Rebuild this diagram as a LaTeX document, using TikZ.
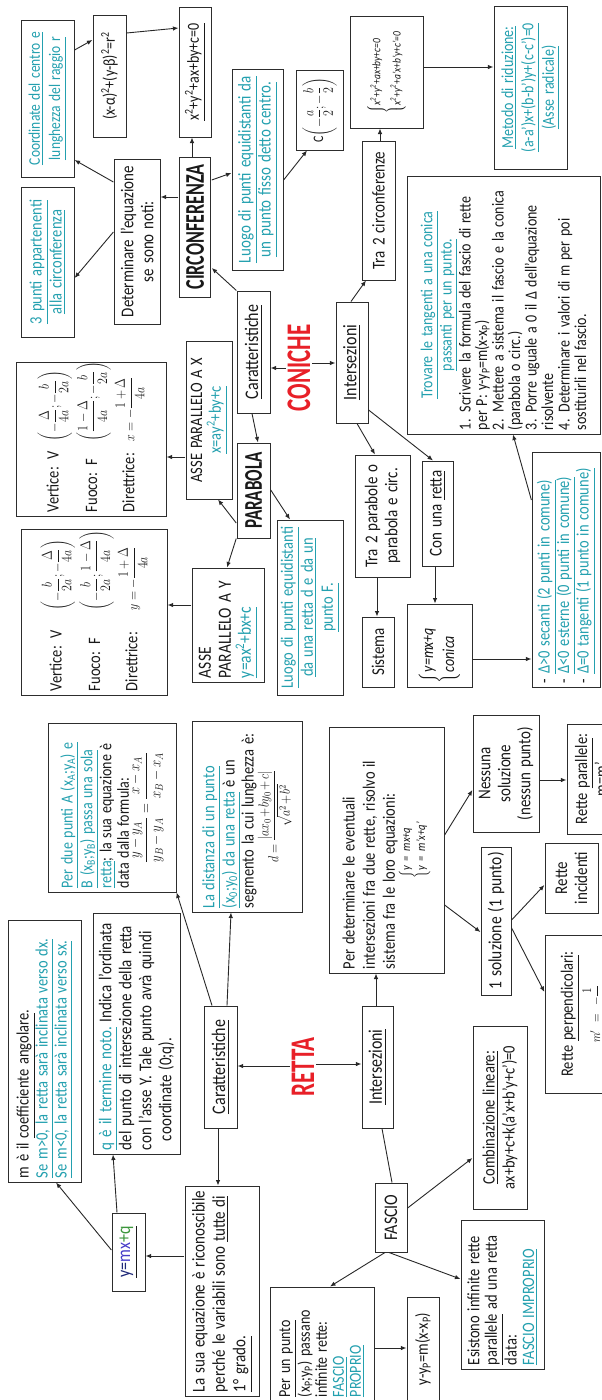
\RequirePackage{fix-cm}
\documentclass[tikz,border=0pt]{standalone}
\usepackage{amsmath}
\usepackage{fontspec}
\setmainfont{Carlito}
\usetikzlibrary{arrows.meta}
\definecolor{tl}{RGB}{35,160,175}
\definecolor{rd}{RGB}{232,32,40}
\definecolor{bd}{RGB}{45,45,45}
\definecolor{ln}{RGB}{40,40,40}
\definecolor{tx}{RGB}{25,25,25}
\definecolor{nv}{RGB}{30,40,120}
\definecolor{bl}{RGB}{70,60,200}
\definecolor{gr}{RGB}{60,150,60}
\newcommand\tlu[1]{\textcolor{tl}{\underline{#1}}}
\newcommand\fm[1]{{\fontsize{12}{14}\selectfont$#1$}}
\newcommand\bxn[7]{%
 \pgfmathsetmacro\bxW{#5-#3}%
 \pgfmathsetmacro\bxH{(#4-#2)/1.2}%
 \pgfmathsetmacro\bxT{#5-#3-8}%
 \pgfmathsetmacro\bxX{(#2+#4)/2}%
 \pgfmathsetmacro\bxY{-(#3+#5)/2}%
 \node[box,minimum width=\bxW pt,minimum height=\bxH pt,text width=\bxT pt,#6] (#1) at (\bxX,\bxY) {#7};}
\tikzset{
 fsz/.style 2 args={font=\fontsize{#1}{#2}\selectfont},
 box/.style={draw=bd,line width=1pt,rotate=90,yscale=1.2,inner xsep=3pt,inner ysep=1pt,align=center,text=tx,fsz={15}{16.7}},
 lbl/.style={rotate=90,yscale=1.5,inner sep=1pt,text=rd},
 arr/.style={draw=ln,line width=0.9pt,-{Latex[length=5.5pt,width=4.5pt]}},
 pln/.style={draw=ln,line width=0.9pt},
}
\begin{document}
\begin{tikzpicture}[x=1pt,y=1pt]
\useasboundingbox (0,0) rectangle (602,-1400);
\fill[white] (0,0) rectangle (602,-1400);
% ---------------- CONICHE ----------------
\bxn{coord}{21}{20}{74}{177}{fsz={13.5}{16.7}}{\tlu{Coordinate del centro e}\\\tlu{lunghezza del raggio r}}
\bxn{eqc}{93}{15}{126}{137}{fsz={14}{16}}{(x-α)\textsuperscript{2}+(y-β)\textsuperscript{2}=r\textsuperscript{2}}
\bxn{gen}{179}{7}{211}{137}{fsz={14}{16}}{\underline{x\textsuperscript{2}+y\textsuperscript{2}+ax+by+c=0}}
\bxn{p3}{21}{187}{74}{337}{fsz={14.5}{16.7}}{\tlu{3 punti appartenenti}\\\tlu{alla circonferenza}}
\bxn{det}{114}{159}{160}{324}{fsz={15}{16.7}}{Determinare l'equazione\\se sono noti:}
\bxn{circ}{179}{157}{211}{297}{fsz={18}{20},yscale=1.25,minimum height=21.3pt,inner xsep=1pt}{\textbf{CIRCONFERENZA}}
\bxn{luogoc}{232}{69}{283}{270}{fsz={15}{16.7}}{\tlu{Luogo di punti equidistanti da}\\\tlu{un punto fisso detto centro.}}
\bxn{cpt}{296}{70}{343}{150}{fsz={12}{14}}{C$\left(-\dfrac{a}{2};-\dfrac{b}{2}\right)$}
\bxn{sys2}{350}{16}{423}{128}{fsz={9.5}{16.7}}{$\left\{\begin{tabular}{@{}l@{}}\textit{x\textsuperscript{2}+y\textsuperscript{2}+ax+by+c=0}\\\textit{x\textsuperscript{2}+y\textsuperscript{2}+a'x+b'y+c'=0}\end{tabular}\right.$}
\bxn{metodo}{494}{6}{567}{169}{fsz={14}{17}}{\tlu{Metodo di riduzione:}\\\tlu{(a-a')x+(b-b')y+(c-c')=0}\\\tlu{(Asse radicale)}}
\bxn{tra2c}{362}{141}{395}{280}{fsz={15}{17}}{Tra 2 circonferenze}
\bxn{trov}{407}{176}{600}{434}{fsz={14}{13.75},align=left}{{\centering\tlu{Trovare le tangenti a una conica}\\\tlu{passanti per un punto.}\par}1. Scrivere la formula del fascio di rette\\per P: y-y\textsubscript{P}=m(x-x\textsubscript{P})\\2. Mettere a sistema il fascio e la conica\\(parabola o circ.)\\3. Porre uguale a 0 il Δ dell'equazione\\risolvente\\4. Determinare i valori di m per poi\\sostituirli nel fascio.}
\bxn{carC}{237}{291}{270}{413}{fsz={16}{18}}{\underline{Caratteristiche}}
\node[lbl,fsz={23}{25}] (conic) at (299,-368) {\textbf{CONICHE}};
\bxn{intC}{336}{302}{368}{423}{fsz={16}{18}}{\underline{Intersezioni}}
\bxn{asseX}{186}{341}{232}{499}{fsz={14.5}{15.8}}{ASSE PARALLELO A X\\\tlu{x=ay\textsuperscript{2}+by+c}}
\bxn{vertX}{16}{362}{166}{516}{fsz={14.5}{16},align=left}{\begin{tabular}{@{}l@{\hspace{10pt}}l@{}}
Vertice: V & \fm{\left(-\dfrac{\Delta}{4a};-\dfrac{b}{2a}\right)}\\[10pt]
Fuoco: F & \fm{\left(\dfrac{1-\Delta}{4a};-\dfrac{b}{2a}\right)}\\[10pt]
Direttrice: & \fm{x=-\dfrac{1+\Delta}{4a}}
\end{tabular}}
\bxn{parab}{237}{443}{270}{538}{fsz={17}{19},yscale=1.25,minimum height=22pt,inner xsep=1pt}{\textbf{PARABOLA}}
\bxn{asseY}{192}{568}{264}{682}{fsz={15.5}{16.7},align=left}{ASSE\\PARALLELO A Y\\\tlu{y=ax\textsuperscript{2}+bx+c}}
\bxn{vertY}{21}{529}{167}{695}{fsz={14.5}{16},align=left}{\begin{tabular}{@{}l@{\hspace{20pt}}l@{}}
Vertice: V & \fm{\left(-\dfrac{b}{2a};-\dfrac{\Delta}{4a}\right)}\\[10pt]
Fuoco: F & \fm{\left(-\dfrac{b}{2a};\dfrac{1-\Delta}{4a}\right)}\\[10pt]
Direttrice: & \fm{y=-\dfrac{1+\Delta}{4a}}
\end{tabular}}
\bxn{luogop}{277}{520}{343}{695}{fsz={14.5}{16.7}}{\tlu{Luogo di punti equidistanti}\\\tlu{da una retta d e da un}\\\tlu{punto F.}}
\bxn{tra2p}{355}{455}{410}{577}{fsz={15}{16.7}}{Tra 2 parabole o\\parabola e circ.}
\bxn{conr}{422}{461}{453}{566}{fsz={15}{17}}{Con una \underline{retta}}
\bxn{sist}{362}{617}{394}{687}{fsz={15}{17}}{Sistema}
\bxn{syscon}{407}{604}{472}{687}{fsz={14}{17.5},align=left}{$\left\{\begin{tabular}{@{}l@{}}\textit{y=mx+q}\\\textit{conica}\end{tabular}\right.$}
\bxn{delta}{532}{452}{600}{687}{fsz={14.5}{16.25},align=left}{- \tlu{Δ>0 secanti (2 punti in comune)}\\- \tlu{Δ<0 esterne (0 punti in comune)}\\- \tlu{Δ=0 tangenti (1 punto in comune)}}
% ---------------- RETTA ----------------
\bxn{mbox}{8}{920}{81}{1182}{fsz={14.5}{15.8},align=left}{m è il \underline{coefficiente angolare}.\\\tlu{Se m>0, la retta sarà inclinata verso dx.}\\\tlu{Se m<0, la retta sarà inclinata verso sx.}}
\bxn{qbox}{93}{913}{180}{1154}{fsz={15}{16.7},align=left}{\tlu{q è il termine noto.} Indica l'ordinata\\del punto di intersezione della retta\\con l'asse Y. Tale punto avrà quindi\\\hspace*{0.6em}coordinate (0;q).}
\bxn{carR}{204}{1006}{237}{1128}{fsz={16}{18}}{\underline{Caratteristiche}}
\node[lbl,fsz={23}{25}] (retta) at (303,-1067) {\textbf{RETTA}};
\bxn{intR}{362}{1006}{393}{1128}{fsz={16}{18}}{\underline{Intersezioni}}
\bxn{perdet}{329}{727}{444}{973}{fsz={14.5}{16.7},align=left}{Per determinare le eventuali\\intersezioni fra due rette, risolvo il\\sistema fra le loro equazioni:\par{\centering\fontsize{10.5}{12.5}\selectfont$\left\{\begin{tabular}{@{}l@{}}\textit{y = mx+q}\\\textit{y = m'x+q'}\end{tabular}\right.$\par}}
\bxn{sol1}{481}{847}{511}{995}{fsz={15.5}{17}}{1 soluzione (1 punto)}
\bxn{nessuna}{473}{715}{539}{832}{fsz={15}{16.7}}{Nessuna\\soluzione\\(nessun punto)}
\bxn{parall}{567}{724}{615}{834}{fsz={14.5}{15}}{Rette \underline{parallele}:\\m=m'}
\bxn{incid}{545}{843}{598}{913}{fsz={15}{16.7}}{Rette\\incidenti}
\bxn{perp}{545}{935}{625}{1093}{fsz={14.5}{16}}{Rette \underline{perpendicolari}:\\[2pt]{\fontsize{11}{12}\selectfont$m'=-\dfrac{1}{m}$}}
\bxn{due}{48}{723}{176}{892}{fsz={14}{14.6},align=left}{\tlu{Per due punti A (x\textsubscript{A};y\textsubscript{A}) e}\\\tlu{B (x\textsubscript{B};y\textsubscript{B}) passa una sola}\\\tlu{retta}; la sua equazione è\\data dalla formula:\par{\centering\fontsize{13}{15}\selectfont$\dfrac{y-y_A}{y_B-y_A}=\dfrac{x-x_A}{x_B-x_A}$\par}}
\bxn{dist}{192}{721}{302}{912}{fsz={14.5}{15.8},align=left}{\tlu{La distanza di un punto}\\\tlu{(x\textsubscript{0};y\textsubscript{0}) da una retta} è un\\segmento la cui lunghezza è:\par{\centering\fontsize{12}{14}\selectfont\medmuskip=2mu$d=\dfrac{|ax_0+by_0+c|}{\sqrt{a^2+b^2}}$\par}}
\bxn{suaeq}{185}{1186}{259}{1396}{fsz={15}{17},align=left}{La sua equazione è riconoscibile\\perché le variabili sono \underline{tutte di}\\\underline{1° grado.}}
\bxn{ymq}{112}{1213}{145}{1291}{fsz={16}{18}}{\underline{\textcolor{nv}{y=}\textcolor{bl}{mx}\textcolor{gr}{+q}}}
\bxn{perun}{270}{1287}{374}{1401}{fsz={14}{14.2},align=left}{\underline{Per un punto}\\(x\textsubscript{P};y\textsubscript{P}) passano\\infinite rette:\\\tlu{FASCIO}\\\tlu{PROPRIO}}
\bxn{ypm}{407}{1297}{439}{1401}{fsz={14.5}{16}}{y-y\textsubscript{P}=m(x-x\textsubscript{P})}
\bxn{fascio}{375}{1183}{407}{1252}{fsz={16}{18}}{FASCIO}
\bxn{esist}{461}{1220}{544}{1369}{fsz={14.5}{14.6},align=left}{Esistono infinite rette\\\underline{parallele} ad una retta\\data:\\\tlu{FASCIO IMPROPRIO}}
\bxn{comb}{473}{1026}{527}{1209}{fsz={14.5}{16.7}}{\underline{Combinazione lineare:}\\ax+by+c+k(a'x+b'y+c')=0}
% ---------------- connectors: coniche ----------------
\draw[arr] (circ.east -| 192,0) -- (gen.west -| 192,0);
\draw[arr] (circ.north |- 0,-197) -- (det.south |- 0,-197);
\draw[arr] (circ.south |- 0,-180) -- (luogoc.north |- 0,-173);
\draw[arr] (det.north |- 0,-182) -- (coord.south |- 0,-160);
\draw[arr] (det.north |- 0,-232) -- (p3.south |- 0,-278);
\draw[arr] (eqc.south |- 0,-33) -- (gen.north |- 0,-28);
\draw[arr] (coord.south |- 0,-50) -- (eqc.north |- 0,-40);
\draw[arr] (luogoc.south |- 0,-180) -- (cpt.west -| 307,0);
\draw[arr] (carC.north east) -- (circ.south |- 0,-268);
\draw[arr] (carC.west -| 252,0) -- (parab.east -| 258,0);
\draw[arr] (conic.north |- 0,-368) -- (carC.south |- 0,-368);
\draw[arr] (conic.south |- 0,-363) -- (intC.north |- 0,-363);
\draw[arr] (parab.north |- 0,-523) -- (asseX.west -| 218,0);
\draw[arr] (parab.north west) -- (asseY.east -| 227,0);
\draw[arr] (parab.south |- 0,-490) -- (luogop.east -| 290,0);
\draw[arr] (asseX.north |- 0,-457) -- (vertX.south |- 0,-457);
\draw[arr] (asseY.north |- 0,-605) -- (vertY.south |- 0,-605);
\draw[arr] (intC.east -| 351,0) -- (tra2c.west -| 366,0);
\draw[arr] (tra2c.east -| 380,0) -- (sys2.west -| 380,0);
\draw[arr] (sys2.south |- 0,-67) -- (metodo.north |- 0,-67);
\draw[arr] (intC.west -| 357,0) -- (tra2p.east -| 375,0);
\draw[arr] (intC.south |- 0,-410) -- (conr.east -| 433,0);
\draw[arr] (tra2p.west -| 377,0) -- (sist.east -| 377,0);
\draw[arr] (conr.west -| 435,0) -- (syscon.east -| 435,0);
\draw[arr] (syscon.south |- 0,-659) -- (delta.north |- 0,-659);
\draw[arr] (delta.north |- 0,-500) -- (trov.west -| 513,0);
% ---------------- connectors: retta ----------------
\draw[arr] (retta.north |- 0,-1066) -- (carR.south |- 0,-1066);
\draw[arr] (retta.south |- 0,-1064) -- (intR.north |- 0,-1064);
\draw[arr] (carR.west -| 218,0) -- (suaeq.east -| 218,0);
\draw[arr] (carR.east -| 212,0) -- (due.south west);
\draw[arr] (carR.east -| 227,0) -- (dist.west -| 231,0);
\draw[arr] (ymq.north |- 0,-1250) -- (mbox.west -| 56,0);
\draw[arr] (ymq.east -| 117,0) -- (qbox.west -| 113,0);
\draw[arr] (suaeq.north |- 0,-1256) -- (ymq.south |- 0,-1256);
\draw[arr] (intR.east -| 376,0) -- (perdet.west -| 376,0);
\draw[arr] (perdet.south |- 0,-905) -- (sol1.north |- 0,-932);
\draw[arr] (perdet.south |- 0,-835) -- (nessuna.north |- 0,-790);
\draw[arr] (nessuna.south |- 0,-780) -- (parall.north |- 0,-780);
\draw[arr] (sol1.south |- 0,-920) -- (incid.north |- 0,-885);
\draw[arr] (sol1.south |- 0,-928) -- (perp.north |- 0,-992);
\draw[pln] (intR.west -| 382,0) -- (fascio.east -| 392,0);
\draw[arr] (fascio.south |- 0,-1208) -- (comb.north |- 0,-1158);
\draw[arr] (fascio.west -| 385,0) -- (perun.east -| 330,0);
\draw[arr] (fascio.west -| 389,0) -- (esist.north |- 0,-1279);
\draw[arr] (perun.south |- 0,-1348) -- (ypm.north |- 0,-1348);
\end{tikzpicture}
\end{document}
